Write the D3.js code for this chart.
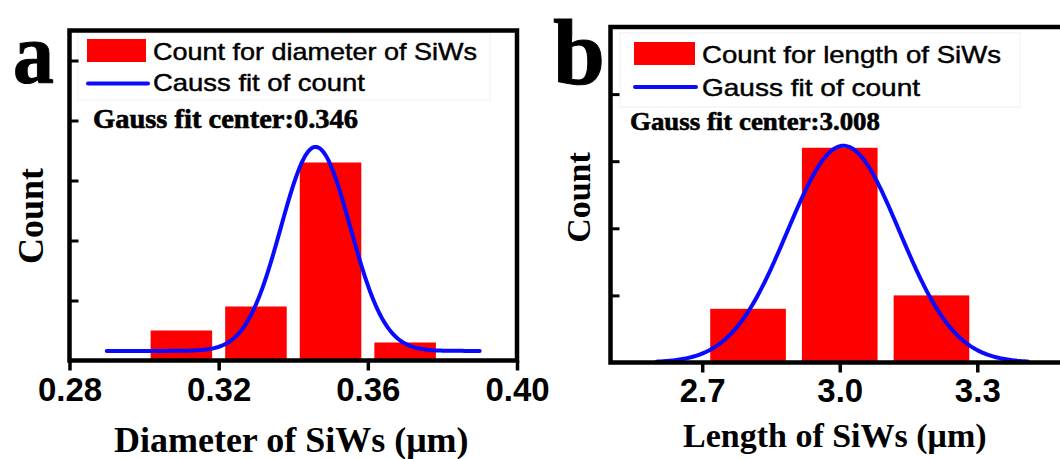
<!DOCTYPE html>
<html>
<head>
<meta charset="utf-8">
<script src="https://cdn.jsdelivr.net/npm/d3@7"></script>
<style>
  body { margin: 0; background: #fff; }
  svg { display: block; }
</style>
</head>
<body>
<svg id="chart" width="1060" height="459"></svg>
<script>
// ---- Panel a: nanowire diameter histogram ----
const diamBins = [0.31, 0.33, 0.35, 0.37];
const diamCounts = [5, 9, 33, 3];
const diamBarWidth = 0.0165;
const diamTicks = [0.28, 0.32, 0.36, 0.40];
const diamFitCenter = 0.346;
const diamFitSigma = 0.0093;
const diamFitAmp = 34;
const diamFitBase = 1.6;
const diamFitSpan = [0.29, 0.39];

// ---- Panel b: nanowire length histogram ----
const lenBins = [2.8, 3.0, 3.2];
const lenCounts = [8, 32, 10];
const lenBarWidth = 0.165;
const lenTicks = [2.7, 3.0, 3.3];
const lenFitCenter = 3.008;
const lenFitSigma = 0.122;
const lenFitAmp = 32.3;
const lenFitBase = 0;
const lenFitSpan = [2.6, 3.41];

const countTicks = [10, 20, 30, 40, 50];

const SANS = "'Liberation Sans', Arial, Helvetica, sans-serif";
const SERIF = "'Liberation Serif', 'Times New Roman', Times, serif";
const RED = "#ff0000";
const BLUE = "#0a0aff";

const svg = d3.select("#chart");

// Gaussian fit curve evaluated from its fitted parameters
function gaussCurve(center, sigma, amp, base, span) {
  return d3.range(0, 241).map(i => {
    const x = span[0] + (span[1] - span[0]) * i / 240;
    return [x, base + amp * Math.exp(-((x - center) ** 2) / (2 * sigma * sigma))];
  });
}

function drawPanel(p) {
  const g = svg.append("g");
  const x = d3.scaleLinear().domain(p.xDomain).range([p.box.x0, p.box.x1]);
  const y = d3.scaleLinear().domain(p.yDomain).range([p.box.y1, p.box.y0]);

  // faint legend frame
  g.append("rect")
    .attr("x", p.legend.x).attr("y", p.legend.y)
    .attr("width", p.legend.w).attr("height", p.legend.h)
    .attr("fill", "none").attr("stroke", "#f0f0f0").attr("stroke-width", 1);

  // histogram bars
  g.selectAll("rect.bar").data(p.bins).join("rect")
    .attr("class", "bar")
    .attr("x", d => x(d - p.barWidth / 2))
    .attr("width", d => x(d + p.barWidth / 2) - x(d - p.barWidth / 2))
    .attr("y", (d, i) => y(p.counts[i]))
    .attr("height", (d, i) => y(0) - y(p.counts[i]))
    .attr("fill", RED);

  // Gauss fit
  const line = d3.line().x(d => x(d[0])).y(d => y(d[1])).curve(d3.curveLinear);
  g.append("path")
    .datum(gaussCurve(p.fit.center, p.fit.sigma, p.fit.amp, p.fit.base, p.fit.span))
    .attr("d", line)
    .attr("fill", "none").attr("stroke", BLUE)
    .attr("stroke-width", 4).attr("stroke-linecap", "round").attr("stroke-linejoin", "round");

  // left axis: inward ticks, no labels
  const yAxis = g.append("g")
    .attr("transform", `translate(${p.box.x0},0)`)
    .call(d3.axisLeft(y).tickValues(p.yTicks).tickSize(-9).tickFormat(""));
  yAxis.select(".domain").remove();
  yAxis.selectAll(".tick line").attr("stroke", "#000").attr("stroke-width", 3);

  // bottom axis: outward ticks with bold labels
  const xAxis = g.append("g")
    .attr("transform", `translate(0,${p.box.y1})`)
    .call(d3.axisBottom(x).tickValues(p.xTicks).tickSize(10).tickPadding(p.tickPad)
      .tickFormat(d3.format(p.tickFmt)));
  xAxis.select(".domain").remove();
  xAxis.selectAll(".tick line").attr("stroke", "#000").attr("stroke-width", 3.5);
  xAxis.selectAll(".tick text")
    .attr("fill", "#000")
    .style("font-family", SANS).style("font-weight", "bold").style("font-size", "33px");

  // plot frame
  g.append("rect")
    .attr("x", p.box.x0).attr("y", p.box.y0)
    .attr("width", p.box.x1 - p.box.x0).attr("height", p.box.y1 - p.box.y0)
    .attr("fill", "none").attr("stroke", "#000").attr("stroke-width", 4.5);

  // legend entries
  const L = p.legend;
  g.append("rect")
    .attr("x", L.sw.x).attr("y", L.sw.y).attr("width", L.sw.w).attr("height", L.sw.h)
    .attr("fill", RED);
  g.append("line")
    .attr("x1", L.ln.x1).attr("x2", L.ln.x2).attr("y1", L.ln.y).attr("y2", L.ln.y)
    .attr("stroke", BLUE).attr("stroke-width", 4).attr("stroke-linecap", "round");
  L.texts.forEach(t => {
    g.append("text")
      .attr("x", t.x).attr("y", t.y)
      .attr("textLength", t.len).attr("lengthAdjust", "spacingAndGlyphs")
      .style("font-family", SANS).style("font-size", "24px")
      .attr("fill", "#000").attr("stroke", "#000").attr("stroke-width", 0.45)
      .text(t.s);
  });

  // fit centre annotation
  g.append("text")
    .attr("x", p.note.x).attr("y", p.note.y)
    .attr("textLength", p.note.len).attr("lengthAdjust", "spacingAndGlyphs")
    .style("font-family", SERIF).style("font-weight", "bold").style("font-size", p.note.size + "px")
    .attr("fill", "#000").attr("stroke", "#000").attr("stroke-width", 0.6)
    .text("Gauss fit center:" + p.note.value);

  // axis titles
  g.append("text")
    .attr("x", (p.box.x0 + p.box.x1) / 2 + p.xTitle.dx).attr("y", p.xTitle.y)
    .attr("text-anchor", "middle")
    .style("font-family", SERIF).style("font-weight", "bold").style("font-size", p.xTitle.size + "px")
    .attr("fill", "#000")
    .text(p.xTitle.s);
  g.append("text")
    .attr("transform", `translate(${p.yTitle.x},${p.yTitle.cy}) rotate(-90)`)
    .attr("text-anchor", "middle")
    .style("font-family", SERIF).style("font-weight", "bold").style("font-size", p.yTitle.size + "px")
    .attr("fill", "#000")
    .text("Count");

  // panel letter
  g.append("text")
    .attr("x", p.letter.x).attr("y", p.letter.y)
    .attr("textLength", p.letter.len).attr("lengthAdjust", "spacingAndGlyphs")
    .style("font-family", SERIF).style("font-weight", "bold").style("font-size", p.letter.size + "px")
    .attr("fill", "#000").attr("stroke", "#000").attr("stroke-width", 1)
    .text(p.letter.s);
}

drawPanel({
  box: { x0: 69.5, x1: 517, y0: 30.5, y1: 360.5 },
  xDomain: [0.28, 0.40], yDomain: [0, 55],
  bins: diamBins, counts: diamCounts, barWidth: diamBarWidth,
  xTicks: diamTicks, yTicks: countTicks, tickFmt: ".2f", tickPad: 7,
  fit: { center: diamFitCenter, sigma: diamFitSigma, amp: diamFitAmp, base: diamFitBase, span: diamFitSpan },
  legend: {
    x: 78, y: 33, w: 412, h: 67,
    sw: { x: 87, y: 39, w: 59, h: 23 },
    ln: { x1: 88, x2: 148, y: 83.5 },
    texts: [
      { s: "Count for diameter of SiWs", x: 153, y: 59.5, len: 324 },
      { s: "Causs fit of count", x: 153, y: 91, len: 212 }
    ]
  },
  note: { x: 93, y: 128, len: 265, size: 27, value: diamFitCenter.toFixed(3) },
  xTitle: { s: "Diameter of SiWs (\u03bcm)", y: 452, size: 36, dx: -2 },
  yTitle: { x: 43, cy: 216, size: 36 },
  letter: { s: "a", x: 13, y: 83, len: 41, size: 86 }
});

drawPanel({
  box: { x0: 610.5, x1: 1069, y0: 27, y1: 362.5 },
  xDomain: [2.5, 3.5], yDomain: [0, 50],
  bins: lenBins, counts: lenCounts, barWidth: lenBarWidth,
  xTicks: lenTicks, yTicks: countTicks, tickFmt: ".1f", tickPad: 6.5,
  fit: { center: lenFitCenter, sigma: lenFitSigma, amp: lenFitAmp, base: lenFitBase, span: lenFitSpan },
  legend: {
    x: 620, y: 33, w: 400, h: 74,
    sw: { x: 634, y: 42, w: 61, h: 23 },
    ln: { x1: 635, x2: 696, y: 87 },
    texts: [
      { s: "Count for length of SiWs", x: 702, y: 63, len: 299 },
      { s: "Gauss fit of count", x: 702, y: 95.5, len: 218 }
    ]
  },
  note: { x: 630, y: 130, len: 250, size: 26, value: lenFitCenter.toFixed(3) },
  xTitle: { s: "Length of SiWs (\u03bcm)", y: 447, size: 34, dx: -5 },
  yTitle: { x: 590, cy: 197.5, size: 34 },
  letter: { s: "b", x: 553, y: 84, len: 52, size: 93 }
});
</script>
</body>
</html>
